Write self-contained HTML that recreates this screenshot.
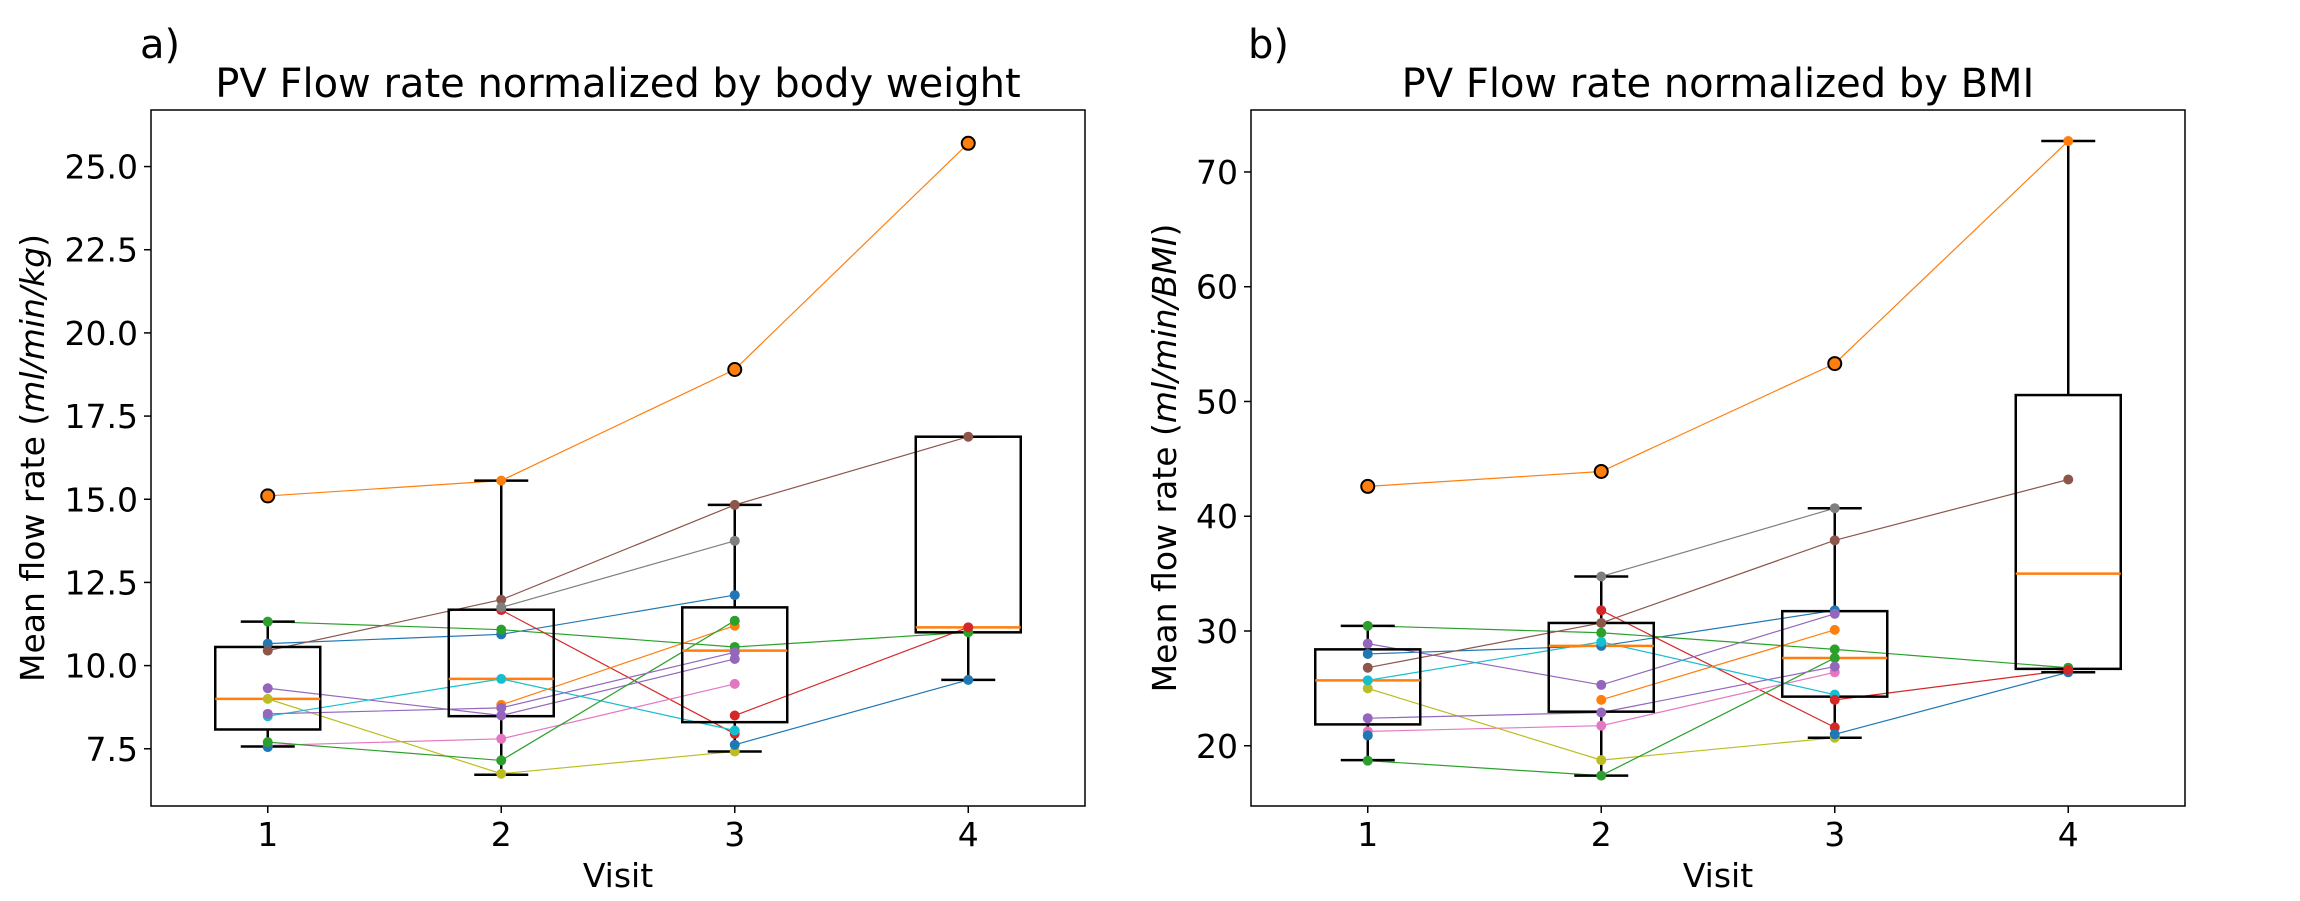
<!DOCTYPE html>
<html><head><meta charset="utf-8"><style>
body{margin:0;background:#fff;}
svg{display:block;font-family:"DejaVu Sans","Liberation Sans",sans-serif;}
</style></head><body>
<svg id="chart" width="2300" height="901" viewBox="0 0 2300 901" xmlns="http://www.w3.org/2000/svg"></svg>
<script>
const visits = [1, 2, 3, 4];
const colors = ["#1f77b4","#ff7f0e","#2ca02c","#d62728","#9467bd","#8c564b","#e377c2","#7f7f7f","#bcbd22","#17becf","#1f77b4","#ff7f0e","#2ca02c","#d62728","#9467bd"];
// panel a: flow rate / body weight (null = no visit)
const weightSeries = [
  [10.66, 10.94, 12.12, null],
  [15.1, 15.56, 18.9, 25.7],
  [11.32, 11.08, 10.56, 11.0],
  [null, 11.67, 7.95, null],
  [9.32, 8.5, 10.2, null],
  [10.45, 11.98, 14.83, 16.88],
  [7.6, 7.8, 9.45, null],
  [null, 11.75, 13.75, null],
  [9.0, 6.75, 7.42, null],
  [8.48, 9.6, 8.05, null],
  [7.55, null, 7.62, 9.57],
  [null, 8.82, 11.2, null],
  [7.7, 7.15, 11.35, null],
  [null, null, 8.5, 11.15],
  [8.55, 8.73, 10.4, null]
];
// panel b: flow rate / BMI
const bmiSeries = [
  [28.0, 28.7, 31.8, null],
  [42.6, 43.9, 53.3, 72.7],
  [30.45, 29.85, 28.4, 26.8],
  [null, 31.8, 21.6, null],
  [28.9, 25.3, 31.5, null],
  [26.8, 30.7, 37.9, 43.2],
  [21.25, 21.75, 26.4, null],
  [null, 34.75, 40.7, null],
  [25.0, 18.75, 20.7, null],
  [25.7, 29.05, 24.45, null],
  [20.9, null, 21.0, 26.4],
  [null, 24.0, 30.1, null],
  [18.7, 17.4, 27.65, null],
  [null, null, 24.0, 26.6],
  [22.4, 22.9, 26.9, null]
];
// box stats: [whiskerLow, q1, median, q3, whiskerHigh]
const weightBoxes = [[7.57,8.08,9.0,10.56,11.32],[6.72,8.48,9.6,11.68,15.56],[7.42,8.3,10.45,11.75,14.83],[9.57,11.0,11.15,16.88,16.88]];
const weightFliers = [[15.1],[],[18.9],[25.7]];
const bmiBoxes = [[18.75,21.86,25.7,28.4,30.45],[17.4,22.97,28.7,30.7,34.75],[20.7,24.28,27.65,31.73,40.7],[26.4,26.7,35.0,50.56,72.7]];
const bmiFliers = [[42.6],[43.9],[53.3],[]];
const weightTicks = ["7.5","10.0","12.5","15.0","17.5","20.0","22.5","25.0"];
const bmiTicks = ["20","30","40","50","60","70"];

const NS="http://www.w3.org/2000/svg";
const svg=document.getElementById('chart');
function mk(tag,attrs,parent){const e=document.createElementNS(NS,tag);for(const k in attrs)e.setAttribute(k,attrs[k]);(parent||svg).appendChild(e);return e;}

function panel(o){
  const g=mk('g',{});
  
  
  const L=o.left,R=o.left+934,T=110,B=806;
  const xs=v=>L+(v-0.5)*(R-L)/4;
  const ys=v=>B-(v-o.ymin)*(B-T)/(o.ymax-o.ymin);
  o.series.forEach((s,i)=>{
    let pts=[];
    const flush=()=>{if(pts.length>1){const pl=mk('polyline',{points:pts.join(' '),fill:'none',stroke:colors[i],'stroke-width':1.2},g);
      
      }pts=[];};
    s.forEach((v,j)=>{if(v===null){flush();}else pts.push(xs(visits[j])+','+ys(v));});
    flush();
  });
  o.boxes.forEach((b,j)=>{
    const cx=xs(visits[j]),hw=52.5,cw=27;
    const bg=mk('g',{stroke:'#000','stroke-width':2.5,fill:'none'},g);
    
    
    mk('rect',{x:cx-hw,y:ys(b[3]),width:2*hw,height:ys(b[1])-ys(b[3])},bg);
    mk('line',{x1:cx,x2:cx,y1:ys(b[1]),y2:ys(b[0])},bg);
    mk('line',{x1:cx,x2:cx,y1:ys(b[3]),y2:ys(b[4])},bg);
    mk('line',{x1:cx-cw,x2:cx+cw,y1:ys(b[0]),y2:ys(b[0])},bg);
    mk('line',{x1:cx-cw,x2:cx+cw,y1:ys(b[4]),y2:ys(b[4])},bg);
    const m=mk('line',{x1:cx-hw,x2:cx+hw,y1:ys(b[2]),y2:ys(b[2]),stroke:'#ff7f0e','stroke-width':2.5},g);
    
    
  });
  o.series.forEach((s,i)=>{
    s.forEach((v,j)=>{if(v===null)return;
      const c=mk('circle',{cx:xs(visits[j]),cy:ys(v),r:5,fill:colors[i]},g);
      
      
    });
  });
  o.fliers.forEach((f,j)=>f.forEach(v=>{
    const c=mk('circle',{cx:xs(visits[j]),cy:ys(v),r:6.5,fill:'#ff7f0e',stroke:'#000','stroke-width':2},g);
    
    
  }));
  const fr=mk('rect',{x:L,y:T,width:R-L,height:B-T,fill:'none',stroke:'#000','stroke-width':1.5},g);
  
  
  visits.forEach(v=>{
    mk('line',{x1:xs(v),x2:xs(v),y1:B,y2:B+7,stroke:'#000','stroke-width':1.5},g);
    const t=mk('text',{x:xs(v),y:846,'font-size':33,'text-anchor':'middle'},g);t.textContent=v;
    
    
  });
  o.ticks.forEach(tk=>{
    const y=ys(parseFloat(tk));
    mk('line',{x1:L-7,x2:L,y1:y,y2:y,stroke:'#000','stroke-width':1.5},g);
    const t=mk('text',{x:L-13,y:y+12,'font-size':33,'text-anchor':'end'},g);t.textContent=tk;
    
    
  });
  const xl=mk('text',{x:(L+R)/2,y:887,'font-size':33,'text-anchor':'middle'},g);xl.textContent='Visit';
  
  
  const yl=mk('text',{x:0,y:0,'font-size':33,'text-anchor':'middle',transform:`translate(${o.ylx},${(T+B)/2}) rotate(-90)`},g);
  yl.innerHTML='Mean flow rate (<tspan font-style="italic">'+o.unit+'</tspan>)';
  
  
  const ti=mk('text',{x:(L+R)/2,y:97,'font-size':40,'text-anchor':'middle'},g);ti.textContent=o.title;
  
  
  const pl=mk('text',{x:o.plx,y:58,'font-size':40},g);pl.textContent=o.lab;
  
  
}
panel({name:'panel-a',left:151,ymin:5.78,ymax:26.7,series:weightSeries,boxes:weightBoxes,fliers:weightFliers,ticks:weightTicks,title:'PV Flow rate normalized by body weight',unit:'ml/min/kg',lab:'a)',plx:140,ylx:44});
panel({name:'panel-b',left:1251,ymin:14.75,ymax:75.4,series:bmiSeries,boxes:bmiBoxes,fliers:bmiFliers,ticks:bmiTicks,title:'PV Flow rate normalized by BMI',unit:'ml/min/BMI',lab:'b)',plx:1248,ylx:1176});
</script>
</body></html>
